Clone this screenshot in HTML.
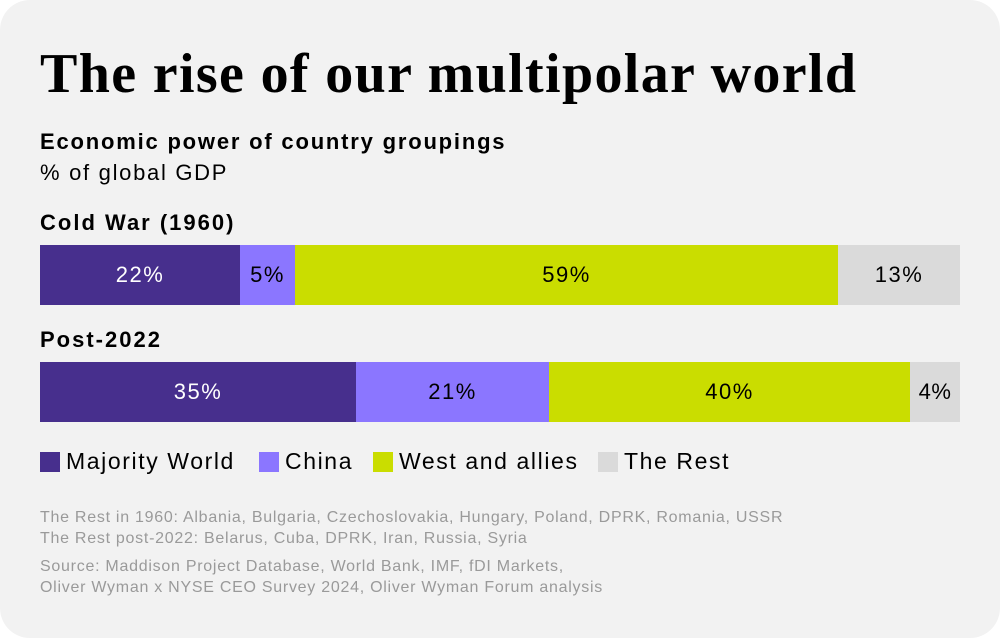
<!DOCTYPE html>
<html><head><style>
body{margin:0;width:1000px;height:638px;background:#fff;position:relative;overflow:hidden;font-family:"Liberation Sans",sans-serif}
.card{position:absolute;left:0;top:0;width:1000px;height:638px;background:#f2f2f2;border-radius:30px}
.a{position:absolute;white-space:nowrap}
.bar{position:absolute;display:flex;align-items:center;justify-content:center;font-size:22px;color:#000;letter-spacing:1.5px}
.sq{position:absolute;width:20px;height:20px;top:452px}
.lg{font-size:23px;letter-spacing:1.6px}
</style></head><body>
<div class="card"></div>
<div class="a" style="left:40px;top:44px;font-family:'Liberation Serif',serif;font-weight:bold;font-size:56px;letter-spacing:1.35px;line-height:60px">The rise of our multipolar world</div>
<div class="a" style="left:40px;top:129px;font-size:22px;font-weight:bold;letter-spacing:1.8px">Economic power of country groupings</div>
<div class="a" style="left:40px;top:160px;font-size:22px;letter-spacing:1.7px">% of global GDP</div>
<div class="a" style="left:40px;top:210px;font-size:22px;font-weight:bold;letter-spacing:2px">Cold War (1960)</div>
<div class="bar" style="left:40px;top:245px;width:200px;height:60px;background:#472f8d;color:#fff">22%</div>
<div class="bar" style="left:240px;top:245px;width:55px;height:60px;background:#8b76ff">5%</div>
<div class="bar" style="left:295px;top:245px;width:543px;height:60px;background:#cadd00">59%</div>
<div class="bar" style="left:838px;top:245px;width:122px;height:60px;background:#dadada">13%</div>
<div class="a" style="left:40px;top:327px;font-size:22px;font-weight:bold;letter-spacing:2px">Post-2022</div>
<div class="bar" style="left:40px;top:362px;width:316px;height:60px;background:#472f8d;color:#fff">35%</div>
<div class="bar" style="left:356px;top:362px;width:193px;height:60px;background:#8b76ff">21%</div>
<div class="bar" style="left:549px;top:362px;width:361px;height:60px;background:#cadd00">40%</div>
<div class="bar" style="left:910px;top:362px;width:50px;height:60px;background:#dadada;letter-spacing:0.5px">4%</div>
<div class="sq" style="left:40px;background:#472f8d"></div><div class="a lg" style="left:66px;top:448px">Majority World</div>
<div class="sq" style="left:259px;background:#8b76ff"></div><div class="a lg" style="left:285px;top:448px">China</div>
<div class="sq" style="left:373px;background:#cadd00"></div><div class="a lg" style="left:399px;top:448px">West and allies</div>
<div class="sq" style="left:598px;background:#dadada"></div><div class="a lg" style="left:624px;top:448px">The Rest</div>
<div class="a" style="left:40px;top:507px;font-size:16px;color:#9a9a9a;line-height:21px;letter-spacing:0.73px">The Rest in 1960: Albania, Bulgaria, Czechoslovakia, Hungary, Poland, DPRK, Romania, USSR<br>The Rest post-2022: Belarus, Cuba, DPRK, Iran, Russia, Syria</div>
<div class="a" style="left:40px;top:556px;font-size:16px;color:#9a9a9a;line-height:21px;letter-spacing:0.73px">Source: Maddison Project Database, World Bank, IMF, fDI Markets,<br>Oliver Wyman x NYSE CEO Survey 2024, Oliver Wyman Forum analysis</div>
</body></html>
